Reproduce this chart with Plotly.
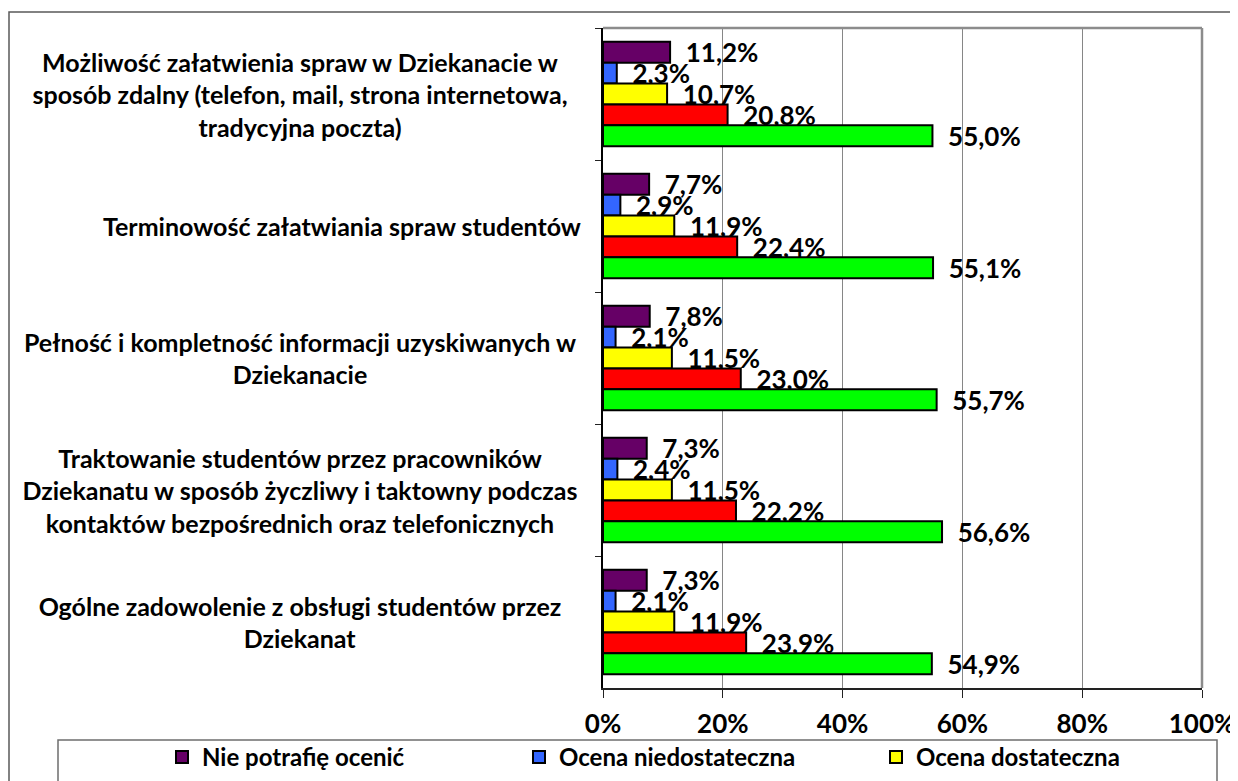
import plotly.graph_objects as go

# ---------------- data ----------------
categories = [
    "Możliwość załatwienia spraw w Dziekanacie w sposób zdalny (telefon, mail, strona internetowa, tradycyjna poczta)",
    "Terminowość załatwiania spraw studentów",
    "Pełność i kompletność informacji uzyskiwanych w Dziekanacie",
    "Traktowanie studentów przez pracowników Dziekanatu w sposób życzliwy i taktowny podczas kontaktów bezpośrednich oraz telefonicznych",
    "Ogólne zadowolenie z obsługi studentów przez Dziekanat",
]
category_label_lines = [
    ["Możliwość załatwienia spraw w Dziekanacie w",
     "sposób zdalny (telefon, mail, strona internetowa,",
     "tradycyjna poczta)"],
    ["Terminowość załatwiania spraw studentów"],
    ["Pełność i kompletność informacji uzyskiwanych w",
     "Dziekanacie"],
    ["Traktowanie studentów przez pracowników",
     "Dziekanatu w sposób życzliwy i taktowny podczas",
     "kontaktów bezpośrednich oraz telefonicznych"],
    ["Ogólne zadowolenie z obsługi studentów przez",
     "Dziekanat"],
]

series_names = ["Nie potrafię ocenić", "Ocena niedostateczna", "Ocena dostateczna",
                "Ocena dobra", "Ocena bardzo dobra"]
nie_potrafie = [11.2, 7.7, 7.8, 7.3, 7.3]
niedostateczna = [2.3, 2.9, 2.1, 2.4, 2.1]
dostateczna = [10.7, 11.9, 11.5, 11.5, 11.9]
dobra = [20.8, 22.4, 23.0, 22.2, 23.9]
bardzo_dobra = [55.0, 55.1, 55.7, 56.6, 54.9]
series_values = [nie_potrafie, niedostateczna, dostateczna, dobra, bardzo_dobra]
# legend row that is visible in the (cropped) reference
legend_visible = [True, True, True, False, False]

x_ticks = [0, 20, 40, 60, 80, 100]
x_tick_labels = ["0%", "20%", "40%", "60%", "80%", "100%"]

# ---------------- style ----------------
colors = ["#660066", "#3366FF", "#FFFF00", "#FF0000", "#00FF00"]
FONT = "Lato"
FS_LABEL = 25
FS_NUM = 26
FS_LEGEND = 24
OFF = 8                       # page body margin
PAGE_W, PAGE_H = 1238, 781
W, H = PAGE_W - OFF, PAGE_H - OFF
# plot area in page pixels
PX0, PX1, PY0, PY1 = 603, 1202, 28, 688
L, R, T, B = PX0 - OFF, W - (PX1 - OFF), PY0 - OFF, H - (PY1 - OFF)
PW, PH = PX1 - PX0, PY1 - PY0


def px_x(px):
    return (px - PX0) / PW


def px_y(py):
    return (PY1 - py) / PH


fig = go.Figure()
for name, vals, col, show in zip(series_names, series_values, colors, legend_visible):
    fig.add_trace(go.Bar(
        y=categories, x=vals, name=name, orientation="h", showlegend=show,
        marker=dict(color=col, line=dict(color="black", width=2)),
        text=["\u00a0\u00a0" + f"{v:.1f}".replace(".", ",") + "%" for v in vals],
        textposition="outside", constraintext="none", cliponaxis=False,
        textfont=dict(family=FONT, size=FS_NUM, color="black", weight="bold"),
        hoverinfo="skip",
    ))

# category labels (centered lines inside a right-aligned block)
LINE_SP = 32.5
annotations = []
for cat, lines in zip(categories, category_label_lines):
    n = len(lines)
    for j, line in enumerate(lines):
        ann = dict(
            xref="paper", yref="y", x=0, y=cat, xanchor="right", yanchor="middle",
            xshift=-20, yshift=((n - 1) / 2 - j) * LINE_SP,
            text=line, showarrow=False, align="center",
            font=dict(family=FONT, size=FS_LABEL, color="black", weight="bold"),
        )
        if n > 1:
            ann["width"] = 562
        annotations.append(ann)

shapes = [
    # outer chart border
    dict(type="rect", xref="paper", yref="paper",
         x0=px_x(9), x1=px_x(1270), y0=px_y(820), y1=px_y(12),
         line=dict(color="#5a5a5a", width=1.5), fillcolor="rgba(0,0,0,0)"),
    # plot area top and right border
    dict(type="line", xref="paper", yref="paper", x0=0, x1=1, y0=1, y1=1,
         line=dict(color="#8c8c8c", width=2.5)),
    dict(type="line", xref="paper", yref="paper", x0=1, x1=1, y0=0, y1=1,
         line=dict(color="#8c8c8c", width=2.5)),
    # legend box
    dict(type="rect", xref="paper", yref="paper",
         x0=px_x(58), x1=px_x(1217), y0=px_y(820), y1=px_y(740),
         line=dict(color="#6e6e6e", width=1.5), fillcolor="rgba(0,0,0,0)"),
]

fig.update_layout(
    width=W, height=H,
    margin=dict(l=L, r=R, t=T, b=B, autoexpand=False),
    paper_bgcolor="white", plot_bgcolor="white",
    barmode="group", bargap=0.21, bargroupgap=0,
    font=dict(family=FONT, size=FS_LABEL, color="black", weight="bold"),
    showlegend=True,
    legend=dict(
        orientation="h", x=px_x(162), xanchor="left", y=px_y(735), yanchor="top",
        entrywidth=312, entrywidthmode="pixels",
        font=dict(family=FONT, size=FS_LEGEND, color="black", weight="bold"),
        bgcolor="rgba(0,0,0,0)", borderwidth=0, itemwidth=30,
    ),
    annotations=annotations,
    shapes=shapes,
)

fig.update_xaxes(
    range=[0, 100], tickmode="array", tickvals=x_ticks, ticktext=x_tick_labels,
    showgrid=True, gridcolor="#868686", gridwidth=1,
    showline=True, linecolor="#222222", linewidth=1.5,
    ticks="outside", ticklen=8, tickcolor="#222222", tickwidth=1.2,
    ticklabelstandoff=4,
    tickfont=dict(family=FONT, size=FS_NUM, color="black", weight="bold"),
    zeroline=False, fixedrange=True,
)
fig.update_yaxes(
    autorange="reversed", type="category",
    showticklabels=False, showgrid=False,
    showline=True, linecolor="black", linewidth=2,
    ticks="outside", tickson="boundaries", ticklen=6, tickcolor="#222222",
    zeroline=False, fixedrange=True,
)

fig.write_html("out.html")
